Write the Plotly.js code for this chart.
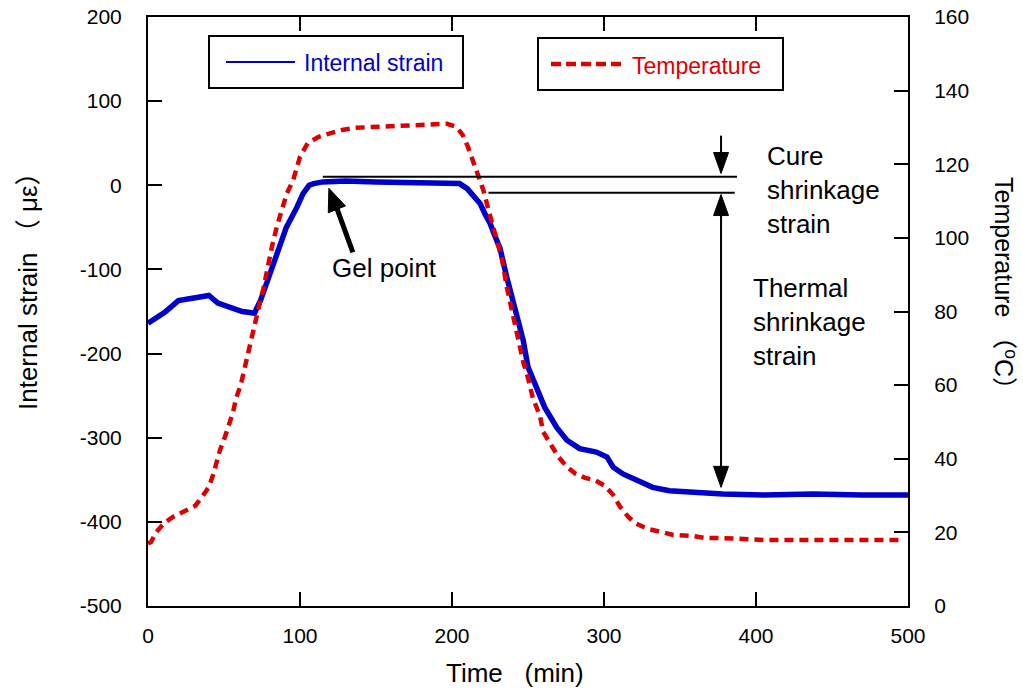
<!DOCTYPE html>
<html>
<head>
<meta charset="utf-8">
<script src="https://cdn.plot.ly/plotly-3.0.1.min.js"></script>
<style>
  html, body { margin: 0; padding: 0; background: #ffffff; }
  #chart { width: 1023px; height: 695px; }
</style>
</head>
<body>
<div id="chart"></div>
<script>
// Internal strain of the specimen (left axis, με) versus time (min)
const strainTime = [0, 5, 11, 20, 28, 35, 40, 46, 55, 62, 66, 70, 74, 77, 81, 85.5, 91, 98, 102, 106, 109, 115, 130, 150, 170, 190, 205, 210, 214, 218.6, 221.7, 225, 228, 231.6, 236, 241.4, 246.8, 250, 256, 261, 269, 275.6, 284, 295, 302, 306, 312.5, 321.7, 332, 343, 361, 378, 405, 437.5, 470, 500];
const strainVal  = [-164, -158, -151, -137, -134, -132, -131, -140, -146, -150, -151, -152, -137, -121, -101, -77, -50, -26, -10, 0, 2, 4, 5, 4, 3, 3, 2, -4, -12, -22, -34, -45, -59, -75, -109, -149, -184, -216, -244, -264, -288, -303, -313, -317, -323, -335, -343, -351, -359, -363, -365, -367, -368, -367, -368, -368];

// Cure temperature (right axis, °C) versus time (min)
const tempTime = [0, 2, 5.5, 10.5, 16.4, 23.7, 31, 35.5, 40, 42.8, 44.7, 47.4, 50.7, 53.3, 56, 58, 61, 63, 65, 67, 69, 71, 73.7, 75.7, 77.6, 81.5, 84.7, 88, 91.3, 95.5, 100, 105, 112, 119.7, 127.6, 136, 146, 157, 170, 183.5, 196.7, 203, 207, 210.5, 214, 217, 220.6, 223, 225.5, 228, 230, 233, 236, 241, 245, 247, 250, 253, 258, 260, 266, 270, 275.6, 281, 287.5, 294, 300.6, 306, 310.5, 316, 320.6, 329, 338, 345.6, 358.6, 366, 376, 407, 450, 497];
const tempVal  = [17, 17.4, 20.1, 22.5, 24.2, 25.8, 27.2, 29.6, 32.3, 35.6, 38.8, 42.4, 46, 49.4, 52.7, 56.5, 60, 63.6, 67.4, 70.6, 74.4, 78.5, 82.6, 85.8, 89.9, 97.5, 103, 108, 112, 115.7, 122, 125.7, 127.4, 128.4, 129.3, 129.9, 130.1, 130.4, 130.7, 130.7, 131, 130.1, 128, 124.7, 120.8, 117.3, 113, 109.2, 105.4, 101.6, 98, 94, 86.7, 77.7, 70.4, 66, 62, 56.8, 51.4, 47.3, 43.2, 40.5, 37.8, 36, 34.8, 34.2, 32.6, 30.2, 27, 24.2, 22.5, 20.9, 20.1, 19.3, 19, 18.5, 18.5, 17.9, 17.9, 17.9];

// Axis ticks
const timeTicks   = [0, 100, 200, 300, 400, 500];
const strainTicks = [-500, -400, -300, -200, -100, 0, 100, 200];
const tempTicks   = [0, 20, 40, 60, 80, 100, 120, 140, 160];

// Strain levels marking the shrinkage components
const gelTime = 119, gelStrain = -3.6;         // gel point
const cureLevelTop = 10, cureLevelBottom = -9; // cure shrinkage band
const thermalLevel = -359;                     // end of thermal shrinkage
const arrowTime = 377;

const FONT = 'Liberation Sans, Arial, Noto Sans CJK JP, sans-serif';
const BLUE = '#0000CC';
const RED = '#DD0000';

// plot box in pixels
const W = 1023, H = 695;
const L = 148, R = 908, T = 17, B = 606;
const px = v => (v - L) / (R - L);
const py = v => (B - v) / (B - T);

const traces = [
  {
    x: strainTime, y: strainVal, type: 'scatter', mode: 'lines',
    name: 'Internal strain', yaxis: 'y',
    line: { color: BLUE, width: 5.5 }
  },
  {
    x: tempTime, y: tempVal, type: 'scatter', mode: 'lines',
    name: 'Temperature', yaxis: 'y2',
    line: { color: RED, width: 4.5, dash: '9px,6px' }
  }
];

const axisCommon = {
  showgrid: false, zeroline: false, showline: true,
  linecolor: '#000', linewidth: 2,
  ticks: 'inside', ticklen: 14, tickwidth: 2, tickcolor: '#000',
  tickfont: { family: FONT, size: 21, color: '#000' }
};

const shapes = [
  // legend boxes
  { type: 'rect', xref: 'paper', yref: 'paper', x0: px(209), x1: px(463), y0: py(88), y1: py(36),
    line: { color: '#000', width: 2 } },
  { type: 'line', xref: 'paper', yref: 'paper', x0: px(226), x1: px(295), y0: py(62), y1: py(62),
    line: { color: BLUE, width: 2 } },
  { type: 'rect', xref: 'paper', yref: 'paper', x0: px(538), x1: px(783), y0: py(90), y1: py(38),
    line: { color: '#000', width: 2 } },
  { type: 'line', xref: 'paper', yref: 'paper', x0: px(551), x1: px(623), y0: py(64), y1: py(64),
    line: { color: RED, width: 4.5, dash: '10px,5px' } },

  // cure shrinkage reference lines
  { type: 'line', xref: 'x', yref: 'y', x0: 115, x1: 387.5, y0: cureLevelTop, y1: cureLevelTop,
    line: { color: '#000', width: 2 } },
  { type: 'line', xref: 'x', yref: 'y', x0: 224, x1: 386, y0: cureLevelBottom, y1: cureLevelBottom,
    line: { color: '#000', width: 2 } },

  // cure shrinkage arrow (pointing down onto the upper line)
  { type: 'line', xref: 'x', yref: 'y', x0: arrowTime, x1: arrowTime, y0: 59, y1: cureLevelTop + 8,
    line: { color: '#000', width: 2 } },
  { type: 'path', xref: 'x', yref: 'y', xsizemode: 'pixel', ysizemode: 'pixel',
    xanchor: arrowTime, yanchor: cureLevelTop + 4,
    path: 'M0,0 L-7.5,21 L7.5,21 Z', fillcolor: '#000', line: { color: '#000', width: 1 } },

  // thermal shrinkage double arrow
  { type: 'line', xref: 'x', yref: 'y', x0: arrowTime, x1: arrowTime, y0: cureLevelBottom - 10, y1: thermalLevel + 10,
    line: { color: '#000', width: 2 } },
  { type: 'path', xref: 'x', yref: 'y', xsizemode: 'pixel', ysizemode: 'pixel',
    xanchor: arrowTime, yanchor: cureLevelBottom - 2,
    path: 'M0,0 L-7.5,-21 L7.5,-21 Z', fillcolor: '#000', line: { color: '#000', width: 1 } },
  { type: 'path', xref: 'x', yref: 'y', xsizemode: 'pixel', ysizemode: 'pixel',
    xanchor: arrowTime, yanchor: thermalLevel,
    path: 'M0,0 L-7.5,21 L7.5,21 Z', fillcolor: '#000', line: { color: '#000', width: 1 } },

  // gel point arrow
  { type: 'path', xref: 'x', yref: 'y', xsizemode: 'pixel', ysizemode: 'pixel',
    xanchor: gelTime, yanchor: gelStrain,
    path: 'M8,-20 L24,-64', line: { color: '#000', width: 5 } },
  { type: 'path', xref: 'x', yref: 'y', xsizemode: 'pixel', ysizemode: 'pixel',
    xanchor: gelTime, yanchor: gelStrain,
    path: 'M0,0 L16.6,-17.6 L-0.6,-24.5 Z', fillcolor: '#000', line: { color: '#000', width: 1 } }
];

const annotations = [
  // legend labels
  { xref: 'paper', yref: 'paper', x: px(302), y: py(63), xanchor: 'left', yanchor: 'middle',
    text: 'Internal strain', showarrow: false, font: { family: FONT, size: 23, color: BLUE } },
  { xref: 'paper', yref: 'paper', x: px(630), y: py(66), xanchor: 'left', yanchor: 'middle',
    text: 'Temperature', showarrow: false, font: { family: FONT, size: 23, color: RED } },

  // axis titles
  { xref: 'paper', yref: 'paper', x: px(515), y: py(673), xanchor: 'center', yanchor: 'middle',
    text: 'Time\u00a0\u00a0\u00a0(min)', showarrow: false, font: { family: FONT, size: 26, color: '#000' } },
  { xref: 'paper', yref: 'paper', x: px(28), y: py(285), xanchor: 'center', yanchor: 'middle',
    textangle: -90, text: 'Internal strain\u00a0（\u00a0με）', showarrow: false,
    font: { family: FONT, size: 26, color: '#000' } },
  { xref: 'paper', yref: 'paper', x: px(1005), y: py(290), xanchor: 'center', yanchor: 'middle',
    textangle: 90, text: 'Temperature\u00a0（<sup>o</sup>C）', showarrow: false,
    font: { family: FONT, size: 25, color: '#000' } },

  // in-plot labels
  { xref: 'x', yref: 'y', x: 155.3, y: -98.7, xanchor: 'center', yanchor: 'middle',
    text: 'Gel point', showarrow: false, font: { family: FONT, size: 26, color: '#000' } },
  { xref: 'paper', yref: 'paper', x: px(765), y: py(190), xanchor: 'left', yanchor: 'middle', align: 'left',
    text: 'Cure<br>shrinkage<br>strain', showarrow: false, font: { family: FONT, size: 26, color: '#000' } },
  { xref: 'paper', yref: 'paper', x: px(751), y: py(322), xanchor: 'left', yanchor: 'middle', align: 'left',
    text: 'Thermal<br>shrinkage<br>strain', showarrow: false, font: { family: FONT, size: 26, color: '#000' } }
];

const layout = {
  width: W, height: H,
  margin: { l: L, r: W - R, t: T, b: H - B, pad: 0 },
  paper_bgcolor: '#fff', plot_bgcolor: '#fff',
  showlegend: false,
  font: { family: FONT, color: '#000' },
  xaxis: Object.assign({}, axisCommon, {
    range: [0, 500], tickvals: timeTicks, ticktext: timeTicks.map(String),
    mirror: 'ticks', ticklabelstandoff: 10
  }),
  yaxis: Object.assign({}, axisCommon, {
    range: [-500, 200], tickvals: strainTicks, ticktext: strainTicks.map(String),
    ticklabelstandoff: 20
  }),
  yaxis2: Object.assign({}, axisCommon, {
    range: [0, 160], tickvals: tempTicks, ticktext: tempTicks.map(String),
    overlaying: 'y', side: 'right', anchor: 'x', ticklabelstandoff: 20
  }),
  shapes: shapes,
  annotations: annotations
};

Plotly.newPlot('chart', traces, layout, { staticPlot: true, displayModeBar: false });
</script>
</body>
</html>
